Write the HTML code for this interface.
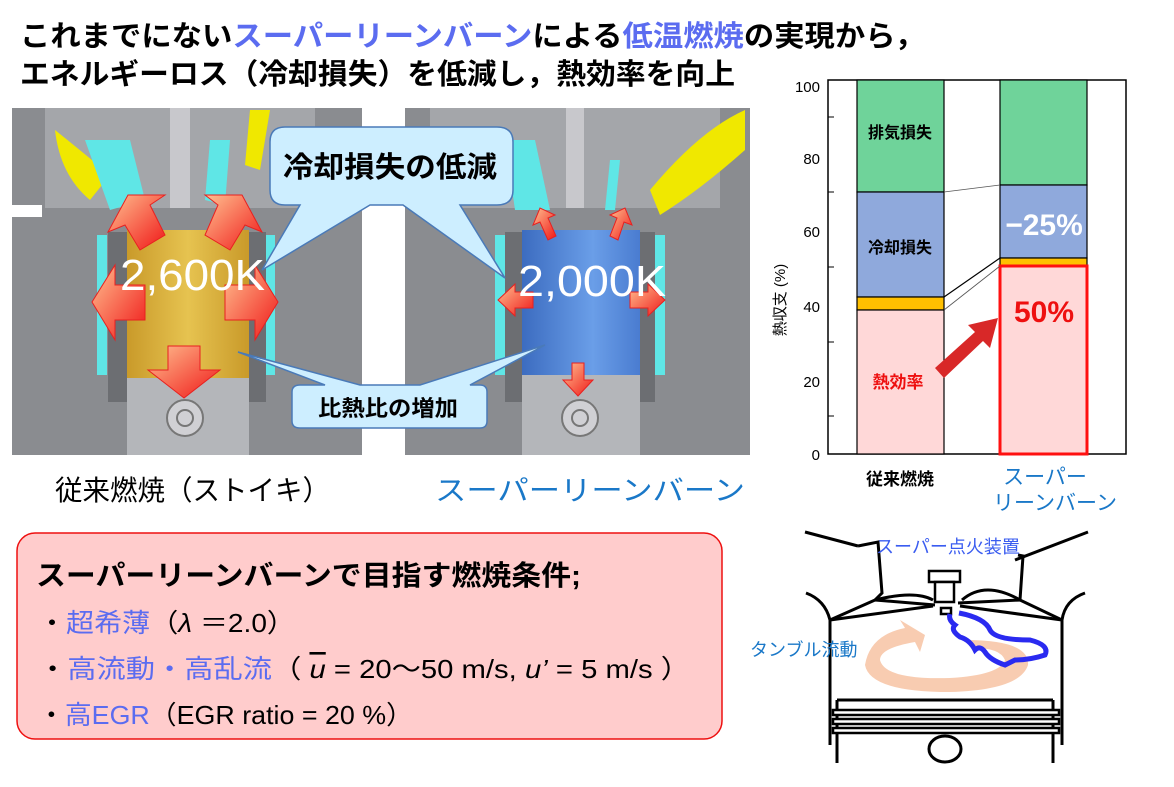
<!DOCTYPE html>
<html><head><meta charset="utf-8"><style>
html,body{margin:0;padding:0;background:#fff;}
svg{display:block;font-family:"Liberation Sans","Noto Sans CJK JP",sans-serif;}
</style></head><body>
<svg width="1174" height="787" viewBox="0 0 1174 787" xmlns="http://www.w3.org/2000/svg">
<defs>
<linearGradient id="ar" x1="0" y1="0" x2="1" y2="1"><stop offset="0" stop-color="#ffc090"/><stop offset="1" stop-color="#f01818"/></linearGradient>
<linearGradient id="gold" x1="0" x2="1"><stop offset="0" stop-color="#c99a2a"/><stop offset=".5" stop-color="#e6c350"/><stop offset="1" stop-color="#c99a2a"/></linearGradient>
<linearGradient id="blue" x1="0" x2="1"><stop offset="0" stop-color="#3c6cc0"/><stop offset=".6" stop-color="#6a9ee8"/><stop offset="1" stop-color="#4a7cd0"/></linearGradient>
</defs>
<!-- title -->
<text x="20" y="46" font-size="29" font-weight="bold" fill="#000" textLength="905" lengthAdjust="spacingAndGlyphs">これまでにない<tspan fill="#5b6cf0">スーパーリーンバーン</tspan>による<tspan fill="#5b6cf0">低温燃焼</tspan>の実現から，</text>
<text x="20" y="84" font-size="29" font-weight="bold" fill="#000" textLength="715" lengthAdjust="spacingAndGlyphs">エネルギーロス（冷却損失）を低減し，熱効率を向上</text>

<!-- left engine -->
<g>
<rect x="12" y="108" width="350" height="347" fill="#8a8c90"/>
<rect x="45" y="108" width="270" height="100" fill="#a4a6aa"/>
<path d="M55 130 Q80 150 110 175 L90 200 Q60 175 55 130Z" fill="#f0e800"/>
<path d="M85 140 L130 140 L145 200 L110 210Z" fill="#5fe6e6"/>
<path d="M210 140 L230 140 L225 205 L205 200Z" fill="#5fe6e6"/>
<path d="M250 110 L270 110 L260 170 L245 165Z" fill="#f0e800"/>
<rect x="170" y="108" width="20" height="100" fill="#c8c8cc"/>
<rect x="97" y="235" width="10" height="140" fill="#5fe6e6"/>
<rect x="265" y="235" width="10" height="140" fill="#5fe6e6"/>
<rect x="108" y="232" width="20" height="170" fill="#6c6e72"/>
<rect x="248" y="232" width="18" height="170" fill="#6c6e72"/>
<rect x="127" y="230" width="122" height="148" fill="url(#gold)"/>
<rect x="127" y="378" width="122" height="77" fill="#b4b6ba"/>
<circle cx="185" cy="418" r="18" fill="#d0d0d4" stroke="#777" stroke-width="2"/>
<circle cx="185" cy="418" r="8" fill="none" stroke="#777" stroke-width="2"/>
<rect x="12" y="205" width="30" height="12" fill="#fff"/>
<path d="M140 250 L125 225 L108 232 L128 195 L165 195 L150 205 L165 235Z" fill="url(#ar)" stroke="#e82020"/>
<path d="M230 250 L245 225 L262 232 L242 195 L205 195 L218 205 L205 235Z" fill="url(#ar)" stroke="#e82020"/>
<path d="M145 285 L115 285 L115 265 L92 302 L115 340 L115 320 L145 320Z" fill="url(#ar)" stroke="#e82020"/>
<path d="M225 285 L255 285 L255 265 L278 302 L255 340 L255 320 L225 320Z" fill="url(#ar)" stroke="#e82020"/>
<path d="M168 346 L200 346 L200 370 L220 370 L184 398 L148 370 L168 370Z" fill="url(#ar)" stroke="#e82020"/>
<text x="120" y="290" font-size="44" fill="#fff" textLength="145" lengthAdjust="spacingAndGlyphs">2,600K</text>
</g>

<!-- right engine -->
<g>
<rect x="405" y="108" width="345" height="347" fill="#8a8c90"/>
<rect x="430" y="108" width="290" height="100" fill="#a4a6aa"/>
<path d="M505 140 L535 140 L550 210 L515 210Z" fill="#5fe6e6"/>
<path d="M610 160 L620 160 L615 210 L605 210Z" fill="#5fe6e6"/>
<path d="M650 190 Q700 130 745 110 L745 150 Q700 190 660 215Z" fill="#f0e800"/>
<rect x="566" y="108" width="18" height="100" fill="#c8c8cc"/>
<rect x="495" y="235" width="10" height="140" fill="#5fe6e6"/>
<rect x="655" y="235" width="10" height="140" fill="#5fe6e6"/>
<rect x="505" y="232" width="18" height="170" fill="#6c6e72"/>
<rect x="640" y="232" width="15" height="170" fill="#6c6e72"/>
<rect x="522" y="230" width="118" height="145" fill="url(#blue)"/>
<rect x="522" y="375" width="118" height="80" fill="#b4b6ba"/>
<circle cx="580" cy="418" r="18" fill="#d0d0d4" stroke="#777" stroke-width="2"/>
<circle cx="580" cy="418" r="8" fill="none" stroke="#777" stroke-width="2"/>
<path d="M548 240 L540 222 L533 225 L540 208 L555 215 L548 218 L556 236Z" fill="url(#ar)" stroke="#e82020"/>
<path d="M618 240 L624 222 L632 225 L625 208 L610 215 L617 218 L610 236Z" fill="url(#ar)" stroke="#e82020"/>
<path d="M533 292 L515 292 L515 284 L498 300 L515 316 L515 308 L533 308Z" fill="url(#ar)" stroke="#e82020"/>
<path d="M630 292 L648 292 L648 284 L665 300 L648 316 L648 308 L630 308Z" fill="url(#ar)" stroke="#e82020"/>
<path d="M572 363 L584 363 L584 380 L593 380 L578 396 L563 380 L572 380Z" fill="url(#ar)" stroke="#e82020"/>
<text x="518" y="296" font-size="44" fill="#fff" textLength="148" lengthAdjust="spacingAndGlyphs">2,000K</text>
</g>

<!-- bubbles -->
<path d="M285 127 L497 127 Q513 127 513 142 L513 190 Q513 205 497 205 L460 205 L505 278 L403 205 L370 205 L262 270 L300 205 L285 205 Q270 205 270 190 L270 142 Q270 127 285 127Z" fill="#cdeeff" stroke="#4a7ab8" stroke-width="1.5"/>
<text x="283" y="177" font-size="29" font-weight="bold" fill="#000" textLength="214" lengthAdjust="spacingAndGlyphs">冷却損失の低減</text>
<path d="M300 385 L325 385 L238 352 L360 385 L420 385 L545 345 L470 385 L480 385 Q487 385 487 392 L487 421 Q487 428 480 428 L300 428 Q292 428 292 421 L292 392 Q292 385 300 385Z" fill="#cdeeff" stroke="#4a7ab8" stroke-width="1.5"/>
<text x="318" y="416" font-size="22" font-weight="bold" fill="#000" textLength="140" lengthAdjust="spacingAndGlyphs">比熱比の増加</text>

<text x="55" y="500" font-size="28" fill="#000" textLength="275" lengthAdjust="spacingAndGlyphs">従来燃焼（ストイキ）</text>
<text x="435" y="500" font-size="28" fill="#1a78c8" textLength="310" lengthAdjust="spacingAndGlyphs">スーパーリーンバーン</text>

<!-- chart -->
<g font-size="15">
<rect x="828" y="80" width="298" height="374" fill="#fff" stroke="#000" stroke-width="1.5"/>
<g stroke="#000" stroke-width="1">
<line x1="828" y1="117" x2="834" y2="117"/><line x1="828" y1="192" x2="834" y2="192"/><line x1="828" y1="267" x2="834" y2="267"/><line x1="828" y1="342" x2="834" y2="342"/><line x1="828" y1="416" x2="834" y2="416"/>
</g>
<g text-anchor="end" fill="#000">
<text x="820" y="92">100</text><text x="820" y="164">80</text><text x="820" y="237">60</text><text x="820" y="312">40</text><text x="820" y="387">20</text><text x="820" y="460">0</text>
</g>
<text transform="translate(785 300) rotate(-90)" text-anchor="middle" fill="#000">熱収支 (%)</text>
<g stroke="#000" stroke-width="1.2">
<rect x="857" y="80" width="87" height="112" fill="#6fd39a"/>
<rect x="857" y="192" width="87" height="105" fill="#8fa9dc"/>
<rect x="857" y="297" width="87" height="13" fill="#ffc000"/>
<rect x="857" y="310" width="87" height="144" fill="#ffd8d8"/>
<rect x="1000" y="80" width="87" height="105" fill="#6fd39a"/>
<rect x="1000" y="185" width="87" height="73" fill="#8fa9dc"/>
<rect x="1000" y="258" width="87" height="8" fill="#ffc000"/>
</g>
<rect x="1000" y="266" width="87" height="188" fill="#ffd8d8" stroke="#ff1010" stroke-width="3"/>
<line x1="944" y1="192" x2="1000" y2="185" stroke="#555" stroke-width="0.8"/>
<line x1="944" y1="297" x2="1000" y2="258" stroke="#000" stroke-width="1.2"/>
<line x1="944" y1="310" x2="1000" y2="266" stroke="#555" stroke-width="0.8"/>
<text x="900" y="138" font-size="16" font-weight="bold" text-anchor="middle" fill="#000">排気損失</text>
<text x="900" y="253" font-size="16" font-weight="bold" text-anchor="middle" fill="#000">冷却損失</text>
<text x="898" y="388" font-size="17" font-weight="bold" text-anchor="middle" fill="#ee1010">熱効率</text>
<text x="1044" y="235" font-size="30" font-weight="bold" text-anchor="middle" fill="#fff">−25%</text>
<text x="1044" y="322" font-size="30" font-weight="bold" text-anchor="middle" fill="#ee1010">50%</text>
<path d="M935 368 L975 332 L968 325 L998 318 L990 348 L983 341 L944 378Z" fill="#d82828"/>
<text x="900" y="485" font-size="17" font-weight="bold" text-anchor="middle" fill="#000">従来燃焼</text>
<text x="1045" y="484" font-size="21" text-anchor="middle" fill="#1a78c8">スーパー</text>
<text x="1055" y="510" font-size="21" text-anchor="middle" fill="#1a78c8">リーンバーン</text>
</g>

<!-- conditions box -->
<rect x="17" y="533" width="705" height="206" rx="18" fill="#ffcccc" stroke="#ee1010" stroke-width="1.5"/>
<text x="36" y="585" font-size="28" font-weight="bold" fill="#000" textLength="545" lengthAdjust="spacingAndGlyphs">スーパーリーンバーンで目指す燃焼条件;</text>
<text x="38" y="632" font-size="26" fill="#000" textLength="257" lengthAdjust="spacingAndGlyphs">・<tspan fill="#5b6cf0">超希薄</tspan>（<tspan font-style="italic">λ</tspan> ＝2.0）</text>
<text x="38" y="678" font-size="26" fill="#000" textLength="652" lengthAdjust="spacingAndGlyphs">・<tspan fill="#5b6cf0">高流動・高乱流</tspan>（ <tspan font-style="italic" text-decoration="overline">u</tspan> = 20～50 m/s,  <tspan font-style="italic">u’</tspan> = 5 m/s ）</text>
<text x="38" y="724" font-size="26" fill="#000" textLength="375" lengthAdjust="spacingAndGlyphs">・<tspan fill="#5b6cf0">高EGR</tspan>（EGR ratio = 20 %）</text>

<!-- schematic -->
<g fill="none" stroke="#000" stroke-width="3">
<path d="M805 532 L858 546"/><path d="M1088 532 L1015 560"/>
<path d="M806 593 Q825 600 830 620"/><path d="M1085 593 Q1065 600 1062 620"/>
<path d="M830 620 L875 600 L935 605"/><path d="M1062 620 L1020 600 L958 603"/>
<path d="M830 620 L933 606"/><path d="M1062 620 L960 606"/>
<path d="M875 600 Q915 590 933 600"/><path d="M1020 600 Q985 580 962 600"/>
<path d="M858 546 L878 542 L882 593 L875 600"/><path d="M1020 600 L1023 556 L1018 555"/>
<path d="M830 620 L830 745"/><path d="M1062 620 L1062 745"/>
<path d="M837 700 L837 763 M1053 700 L1053 763 M837 700 L1053 700"/>
<ellipse cx="945" cy="749" rx="16" ry="13"/>
</g>
<g fill="#fff" stroke="#000" stroke-width="2.5">
<rect x="929" y="571" width="31" height="11"/>
<rect x="935" y="582" width="19" height="20"/>
<rect x="941" y="608" width="10" height="6"/>
<rect x="833" y="710" width="226" height="5"/><rect x="833" y="719" width="226" height="5"/><rect x="833" y="728" width="226" height="5"/>
</g>
<path d="M865 665 Q870 635 905 628 L900 620 L925 635 L920 652 L915 642 Q880 648 880 660 Q885 680 950 678 Q1000 675 1005 660 Q1000 648 975 648 L965 640 Q1030 640 1028 665 Q1020 690 950 692 Q870 692 865 665Z" fill="#f7c7a8" opacity="0.9"/>
<path d="M959 613 Q985 618 990 630 Q995 640 1030 640 Q1050 645 1045 655 Q1030 660 1015 660 L1005 665 Q990 660 985 652 Q980 645 975 650 Q970 640 960 637 Q950 630 955 625 Q948 620 950 614" fill="none" stroke="#2a2af0" stroke-width="5"/>
<text x="876" y="553" font-size="18" fill="#3a5cf0">スーパー点火装置</text>
<text x="750" y="656" font-size="18" fill="#1a78c8">タンブル流動</text>
</svg>
</body></html>
